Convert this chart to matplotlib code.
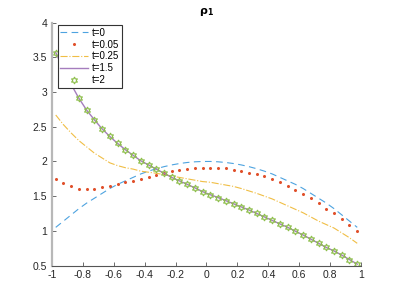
import numpy as np
import matplotlib
matplotlib.use("Agg")
import matplotlib.pyplot as plt
import matplotlib.ticker as ticker

plt.rcParams['font.family'] = ['Liberation Sans', 'DejaVu Sans']

# cell centres, h = 0.05
x = np.arange(-0.975, 1.0, 0.05)

rho_t0 = [1.05, 1.14, 1.23, 1.32, 1.40, 1.47, 1.54, 1.61, 1.67, 1.72,
          1.77, 1.82, 1.86, 1.895, 1.925, 1.95, 1.97, 1.985, 1.995, 2.0,
          2.0, 1.995, 1.985, 1.97, 1.95, 1.925, 1.895, 1.86, 1.82, 1.77,
          1.72, 1.67, 1.61, 1.54, 1.47, 1.40, 1.32, 1.23, 1.14, 1.05]
rho_t005 = [1.75, 1.69, 1.64, 1.61, 1.60, 1.61, 1.63, 1.645, 1.67, 1.70,
            1.725, 1.75, 1.78, 1.81, 1.83, 1.86, 1.88, 1.89, 1.90, 1.905,
            1.91, 1.905, 1.90, 1.88, 1.86, 1.84, 1.815, 1.79, 1.745, 1.70,
            1.65, 1.595, 1.535, 1.47, 1.40, 1.32, 1.25, 1.17, 1.085, 1.0]
rho_t025 = [2.67, 2.53, 2.41, 2.30, 2.21, 2.12, 2.05, 1.98, 1.94, 1.91,
            1.89, 1.86, 1.845, 1.83, 1.81, 1.79, 1.77, 1.75, 1.73, 1.71,
            1.70, 1.68, 1.66, 1.64, 1.61, 1.575, 1.54, 1.50, 1.46, 1.41,
            1.36, 1.31, 1.26, 1.20, 1.14, 1.09, 1.04, 0.97, 0.90, 0.82]
rho_t15 = [3.57, 3.33, 3.11, 2.91, 2.74, 2.60, 2.47, 2.36, 2.26, 2.17,
           2.09, 2.01, 1.95, 1.89, 1.83, 1.77, 1.72, 1.67, 1.62, 1.565,
           1.52, 1.48, 1.435, 1.39, 1.345, 1.30, 1.25, 1.20, 1.15, 1.10,
           1.05, 0.995, 0.94, 0.88, 0.82, 0.76, 0.71, 0.65, 0.585, 0.52]
rho_t2 = [3.57, 3.33, 3.11, 2.91, 2.74, 2.60, 2.47, 2.36, 2.26, 2.17,
          2.09, 2.01, 1.95, 1.89, 1.83, 1.77, 1.72, 1.67, 1.62, 1.565,
          1.52, 1.48, 1.435, 1.39, 1.345, 1.30, 1.25, 1.20, 1.15, 1.10,
          1.05, 0.995, 0.94, 0.88, 0.82, 0.76, 0.71, 0.65, 0.585, 0.52]

fig = plt.figure(figsize=(3.99, 2.99), dpi=100)
ax = fig.add_axes([0.13, 0.112, 0.775, 0.812])

ax.plot(x, rho_t0, '--', color='#4DA3E0', lw=0.8, dashes=(6, 4), label='t=0')
ax.plot(x, rho_t005, '.', color='#E0502A', ms=2.4, label='t=0.05')
ax.plot(x, rho_t025, '-.', color='#F0BE45', lw=0.8, label='t=0.25')
ax.plot(x, rho_t15, '-', color='#A57DBD', lw=1.0, label='t=1.5')
ax.plot(x, rho_t2, ls='none', marker=(6, 1, 0), ms=5, mfc='none',
        mec='#8DBE4A', mew=0.8, label='t=2')

ax.set_xlim(-1, 1)
ax.set_ylim(0.5, 4)
ax.xaxis.set_major_locator(ticker.MultipleLocator(0.2))
ax.yaxis.set_major_locator(ticker.MultipleLocator(0.5))
fmt = ticker.FuncFormatter(lambda v, pos: '%g' % round(v, 6))
ax.xaxis.set_major_formatter(fmt)
ax.yaxis.set_major_formatter(fmt)
ax.tick_params(direction='in', length=3, labelsize=7.5, colors='#262626',
               width=0.6)
ax.tick_params(axis='both', color='#555555')

ax.spines['top'].set_visible(False)
ax.spines['right'].set_visible(False)
ax.spines['left'].set_color('#b8b8b8')
ax.spines['left'].set_linewidth(1.6)
ax.spines['bottom'].set_color('#555555')
ax.spines['bottom'].set_linewidth(0.8)

ax.set_title(r'$\mathbf{\rho_1}$', fontsize=8, pad=6)

leg = ax.legend(loc='upper left', bbox_to_anchor=(0.02, 0.99),
                fontsize=7, frameon=True, fancybox=False, framealpha=1,
                edgecolor='#333333', handlelength=2.8, handletextpad=0.45,
                borderpad=0.25, labelspacing=0.2, borderaxespad=0)
leg.get_frame().set_linewidth(0.8)

fig.savefig('out.png', dpi=100)
